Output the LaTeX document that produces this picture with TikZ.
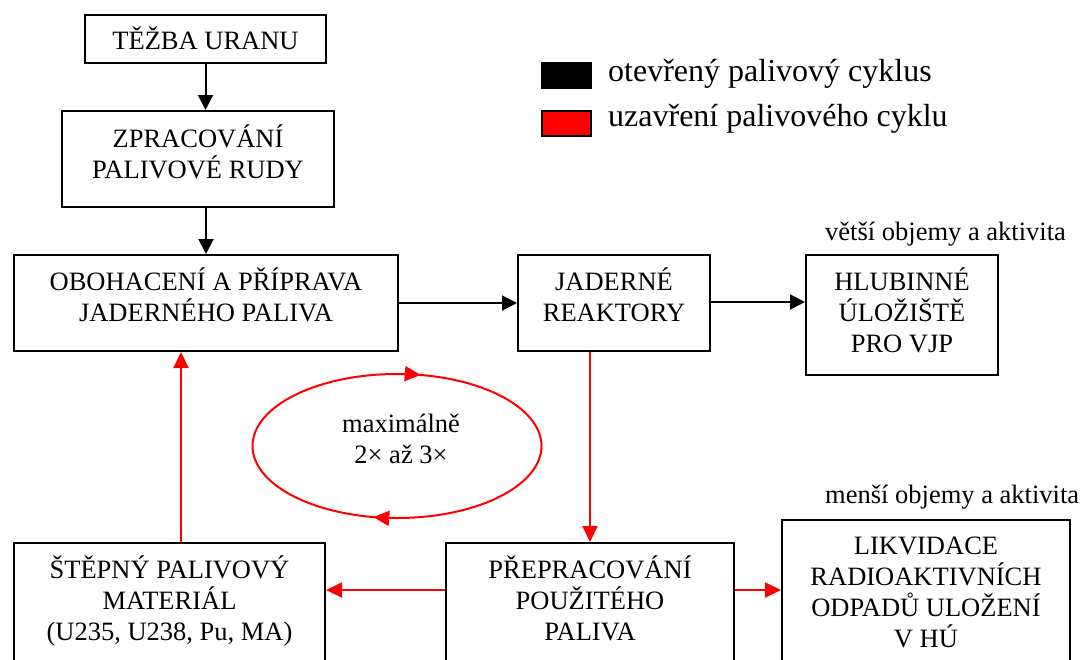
\documentclass[tikz,border=0pt]{standalone}
\usepackage{fontspec}
\setmainfont{Liberation Serif}
\usetikzlibrary{arrows.meta,decorations.markings,calc}
\newcommand{\bxt}[4]{\parbox[c][#2pt][t]{#1pt}{\centering\rule{0pt}{#3pt}#4}}
\begin{document}
\begin{tikzpicture}[x=1pt,y=-1pt,
  every node/.style={font=\fontsize{26.5pt}{31pt}\selectfont},
  stage/.style={draw, line width=2pt, anchor=north west, inner sep=0pt},
  blk/.style={line width=2pt, -{Triangle[length=15pt,width=15pt]}},
  redc/.style={red, line width=2pt, -{Triangle[length=16pt,width=15pt]}},
  note/.style={anchor=base west, inner sep=0pt},
  legtxt/.style={anchor=base west, inner sep=0pt, font=\fontsize{32pt}{38pt}\selectfont},
  legbox/.style={draw=black, line width=1.5pt},
  redloop/.style={red, line width=2pt, postaction={decorate},
    decoration={markings,
      mark=at position 0.284 with {\arrow{Triangle[length=16pt,width=15pt]}},
      mark=at position 0.784 with {\arrow{Triangle[length=16pt,width=15pt]}}}}
]
\useasboundingbox (0,0) rectangle (1081,659);
\fill[white] (0,0) rectangle (1081,659);
\clip (0,0) rectangle (1081,659);

% boxes
\node[stage] (tezba) at (84,14)  {\bxt{241}{48}{34}{TĚŽBA URANU}};
\node[stage] (zprac) at (61,110) {\bxt{272}{96}{36}{ZPRACOVÁNÍ\\PALIVOVÉ RUDY}};
\node[stage] (oboh)  at (13,254) {\bxt{384}{96}{35}{OBOHACENÍ A PŘÍPRAVA\\JADERNÉHO PALIVA}};
\node[stage] (jad)   at (517,254) {\bxt{192}{96}{35}{JADERNÉ\\REAKTORY}};
\node[stage] (hlub)  at (805,254) {\bxt{192}{120}{35}{HLUBINNÉ\\ÚLOŽIŠTĚ\\PRO VJP}};
\node[stage] (step)  at (13,542) {\bxt{311}{125}{35}{ŠTĚPNÝ PALIVOVÝ\\MATERIÁL\\(U235, U238, Pu, MA)}};
\node[stage] (prepr) at (445,542) {\bxt{288}{125}{35}{PŘEPRACOVÁNÍ\\POUŽITÉHO\\PALIVA}};
\node[stage] (likv)  at (781,519) {\bxt{288}{150}{34}{LIKVIDACE\\RADIOAKTIVNÍCH\\ODPADŮ ULOŽENÍ\\V HÚ}};

% notes
\node[note] (vetsi) at (825,240) {větší objemy a aktivita};
\node[note] (mensi) at (825,503) {menší objemy a aktivita};

% legend
\node[legbox, fill=black, minimum width=49pt, minimum height=25pt, inner sep=0pt, anchor=north west] (legk) at (541,62) {};
\node[legbox, fill=red, minimum width=49pt, minimum height=25pt, inner sep=0pt, anchor=north west] (legr) at (541,110) {};
\node[legtxt] (legkt) at (608,81) {otevřený palivový cyklus};
\node[legtxt] (legrt) at (608,126) {uzavření palivového cyklu};

% loop
\coordinate (ellc) at (397,446);
\draw[redloop] (ellc) ellipse [x radius=144.5, y radius=72];
\node[anchor=base, inner sep=0pt] (maxtxt) at (401,432) {\parbox[t]{160pt}{\centering maximálně\\2×~až~3×}};

% black connectors
\draw[blk] (tezba.south) -- (tezba.south |- zprac.north);
\draw[blk] (oboh.north |- zprac.south) -- (oboh.north);
\draw[blk] (oboh.east) -- (oboh.east -| jad.west);
\draw[blk] ([yshift=-48pt]jad.north east) -- ([yshift=-48pt]jad.north east -| hlub.west);

% red connectors
\draw[redc] (prepr.north |- jad.south) -- (prepr.north);
\draw[redc] ([xshift=168pt]step.north west) -- ([xshift=168pt]oboh.south west);
\draw[redc] ([yshift=-48pt]prepr.north west) -- ([yshift=-48pt]prepr.north west -| step.east);
\draw[redc] ([yshift=-48pt]prepr.north east) -- ([yshift=-48pt]prepr.north east -| likv.west);
\end{tikzpicture}
\end{document}
